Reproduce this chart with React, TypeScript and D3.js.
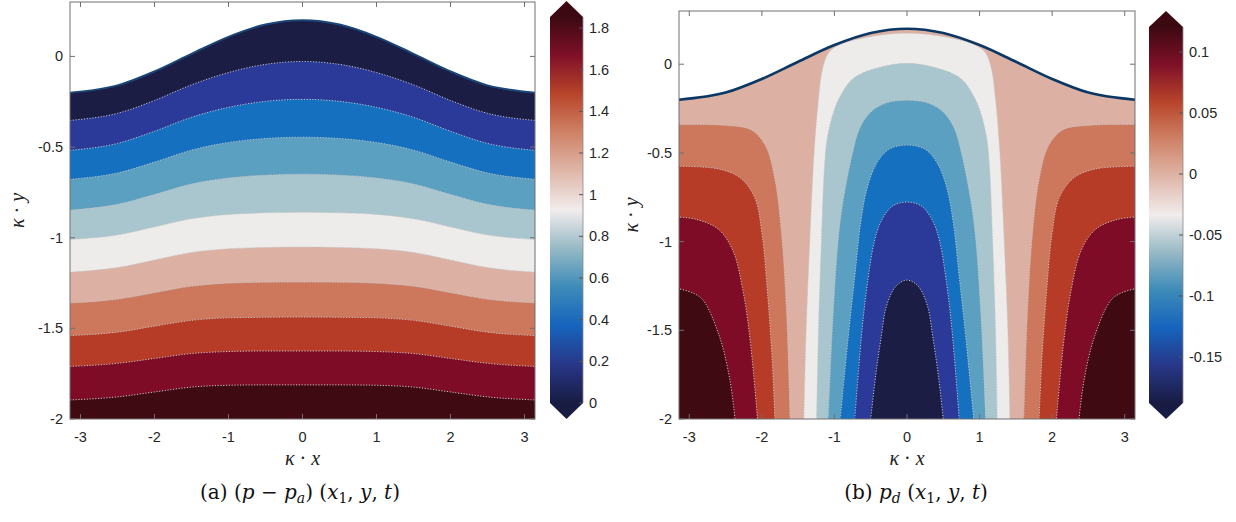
import React from "react";
import * as d3 from "d3";

// ---------- data ----------
const X_TICKS = [-3, -2, -1, 0, 1, 2, 3];
const Y_TICKS = [0, -0.5, -1, -1.5, -2];
const PA_CBAR_TICKS = [0, 0.2, 0.4, 0.6, 0.8, 1, 1.2, 1.4, 1.6, 1.8];
const PD_CBAR_TICKS = [-0.15, -0.1, -0.05, 0, 0.05, 0.1];
const PA_CMAP_RANGE = [0, 1.853];
const PD_CMAP_RANGE = [-0.1877, 0.1205];

// |x| sample positions (fields are symmetric about x = 0)
const HALF_XS = [0, 0.5, 1, 1.5, 2, 2.5, Math.PI];
// free surface eta(x) at HALF_XS
const SURFACE_Y = [0.2, 0.176, 0.108, 0.014, -0.083, -0.16, -0.2];

// (p - p_a): contour lines (low -> high level), y at HALF_XS
const PA_LINES = [
  [-0.028, -0.044, -0.089, -0.157, -0.243, -0.314, -0.353],
  [-0.237, -0.248, -0.281, -0.336, -0.413, -0.48, -0.518],
  [-0.446, -0.453, -0.475, -0.517, -0.583, -0.643, -0.678],
  [-0.65, -0.655, -0.671, -0.704, -0.762, -0.816, -0.848],
  [-0.86, -0.863, -0.872, -0.896, -0.941, -0.985, -1.01],
  [-1.052, -1.054, -1.061, -1.081, -1.123, -1.165, -1.19],
  [-1.245, -1.246, -1.251, -1.268, -1.303, -1.339, -1.36],
  [-1.438, -1.439, -1.442, -1.456, -1.488, -1.521, -1.54],
  [-1.625, -1.625, -1.628, -1.639, -1.666, -1.693, -1.71],
  [-1.812, -1.812, -1.814, -1.824, -1.851, -1.878, -1.895],
];

// p_d: arches centred on x = 0 (left half, bottom -> apex), outer to inner
const PD_ARCH_F = [[-1.42, -2], [-1.39, -1.5], [-1.34, -1.0], [-1.28, -0.5], [-1.22, -0.2], [-1.16, -0.02], [-1.07, 0.07], [-0.9, 0.115], [-0.6, 0.148], [-0.3, 0.168], [0, 0.175]];
const PD_ARCH_E = [[-1.245, -2], [-1.22, -1.5], [-1.18, -1.0], [-1.14, -0.6], [-1.1, -0.42], [-1.02, -0.28], [-0.92, -0.18], [-0.74, -0.08], [-0.4, -0.02], [0, 0.005]];
const PD_ARCH_D = [[-1.085, -2], [-1.03, -1.5], [-0.95, -1.0], [-0.88, -0.77], [-0.75, -0.5], [-0.65, -0.36], [-0.5, -0.27], [-0.3, -0.22], [0, -0.203]];
const PD_ARCH_C = [[-0.92, -2], [-0.8, -1.5], [-0.72, -1.2], [-0.64, -0.9], [-0.55, -0.7], [-0.42, -0.56], [-0.25, -0.48], [0, -0.456]];
const PD_ARCH_B = [[-0.72, -2], [-0.62, -1.5], [-0.55, -1.25], [-0.45, -1.0], [-0.35, -0.88], [-0.2, -0.8], [0, -0.777]];
const PD_ARCH_A = [[-0.5, -2], [-0.43, -1.75], [-0.36, -1.55], [-0.28, -1.36], [-0.15, -1.25], [0, -1.217]];
// p_d: side lobes at x = -pi (edge -> bottom), mirrored at x = +pi
const PD_SIDE_G = [[-3.2, -0.34], [-2.5, -0.345], [-2.15, -0.37], [-1.95, -0.46], [-1.82, -0.65], [-1.73, -0.95], [-1.66, -1.4], [-1.61, -2]];
const PD_SIDE_H = [[-3.2, -0.575], [-2.6, -0.59], [-2.3, -0.64], [-2.1, -0.75], [-2.0, -0.95], [-1.92, -1.3], [-1.86, -1.65], [-1.82, -2]];
const PD_SIDE_I = [[-3.2, -0.86], [-2.9, -0.875], [-2.6, -0.93], [-2.4, -1.05], [-2.25, -1.3], [-2.15, -1.6], [-2.06, -2]];
const PD_SIDE_J = [[-3.2, -1.26], [-2.95, -1.29], [-2.81, -1.33], [-2.58, -1.54], [-2.44, -1.78], [-2.37, -2]];

// band colours, low -> high level
const BAND_COLORS = ["#1b1d45", "#2b3a99", "#1670c0", "#5b9fc1", "#a9c6ce", "#eeeceb", "#dcb1a4", "#cd775c", "#b63c27", "#7f0c27", "#3f0a12"];
// continuous colormap stops (fraction, colour)
const CMAP_T = [0, 0.1, 0.2, 0.3, 0.4, 0.5, 0.6, 0.7, 0.8, 0.9, 1];
const CMAP_C = ["#181c43", "#283788", "#1664bd", "#3d8bb8", "#96b9c5", "#f1ecec", "#dfb7a9", "#cf8266", "#b8452a", "#7f1028", "#3c0912"];

// ---------- drawing ----------
const AXIS_FONT = "'Liberation Sans', Arial, sans-serif";
const SERIF = "'Liberation Serif', 'DejaVu Serif', serif";
const CAP_SERIF = "'DejaVu Serif', 'Liberation Serif', serif";
const LINE_STROKE = "#c4c4c4";
const TICK_FS = 14.5;

type Pt = [number, number];

function fullProfile(ys: number[]): Pt[] {
  const pts: Pt[] = [];
  for (let i = HALF_XS.length - 1; i >= 1; i--) pts.push([-HALF_XS[i], ys[i]]);
  for (let i = 0; i < HALF_XS.length; i++) pts.push([HALF_XS[i], ys[i]]);
  return pts;
}
function mirrorArch(half: number[][]): Pt[] {
  const pts: Pt[] = half.map((p) => [p[0], p[1]] as Pt);
  for (let i = half.length - 2; i >= 0; i--) pts.push([-half[i][0], half[i][1]]);
  return pts;
}

interface PanelProps {
  id: string;
  x0: number; x1: number; y0: number; y1: number;
  children: (x: d3.ScaleLinear<number, number>, y: d3.ScaleLinear<number, number>) => React.ReactNode;
  surfaceWidth: number;
  surfaceColor: string;
  ylabelX: number;
}

function Panel({ id, x0, x1, y0, y1, children, surfaceWidth, surfaceColor, ylabelX }: PanelProps) {
  const x = d3.scaleLinear().domain([-Math.PI, Math.PI]).range([x0, x1]);
  const y = d3.scaleLinear().domain([-2, 0.3]).range([y1, y0]);
  const surf = fullProfile(SURFACE_Y);
  const lineM = d3.line<Pt>().x((d) => x(d[0])).y((d) => y(d[1])).curve(d3.curveMonotoneX);
  const surfPath = lineM(surf)!;
  const clipD = surfPath + `L${x1},${y1}L${x0},${y1}Z`;
  const tl = 5;
  return (
    <g>
      <defs>
        <clipPath id={id + "-clip"}>
          <path d={clipD} />
        </clipPath>
      </defs>
      <g clipPath={`url(#${id}-clip)`}>{children(x, y)}</g>
      <path d={surfPath} fill="none" stroke={surfaceColor} strokeWidth={surfaceWidth} />
      <rect x={x0} y={y0} width={x1 - x0} height={y1 - y0} fill="none" stroke="#707070" strokeWidth={1} />
      {X_TICKS.map((t) => (
        <g key={"xt" + t}>
          <line x1={x(t)} x2={x(t)} y1={y1} y2={y1 - tl} stroke="#707070" />
          <line x1={x(t)} x2={x(t)} y1={y0} y2={y0 + tl} stroke="#707070" />
          <text x={x(t)} y={y1 + 23} textAnchor="middle" fontFamily={AXIS_FONT} fontSize={TICK_FS} fill="#262626">{String(t)}</text>
        </g>
      ))}
      {Y_TICKS.map((t) => (
        <g key={"yt" + t}>
          <line x1={x0} x2={x0 + tl} y1={y(t)} y2={y(t)} stroke="#707070" />
          <line x1={x1} x2={x1 - tl} y1={y(t)} y2={y(t)} stroke="#707070" />
          <text x={x0 - 7} y={y(t) + 5} textAnchor="end" fontFamily={AXIS_FONT} fontSize={TICK_FS} fill="#262626">{String(t)}</text>
        </g>
      ))}
      <text x={(x0 + x1) / 2} y={y1 + 46} textAnchor="middle" fontFamily={SERIF} fontSize={20} fill="#222">
        <tspan fontStyle="italic">κ</tspan> · <tspan fontStyle="italic">x</tspan>
      </text>
      <text transform={`translate(${ylabelX},${(y0 + y1) / 2}) rotate(-90)`} textAnchor="middle" fontFamily={SERIF} fontSize={20} fill="#222">
        <tspan fontStyle="italic">κ</tspan> · <tspan fontStyle="italic">y</tspan>
      </text>
    </g>
  );
}

interface CbarProps {
  id: string; xl: number; xr: number; domain: number[]; ticks: number[]; tickScale: [number, number, number, number];
}
function Colorbar({ id, xl, xr, domain, ticks, tickScale }: CbarProps) {
  const s = d3.scaleLinear().domain([tickScale[0], tickScale[1]]).range([tickScale[2], tickScale[3]]);
  const yTop = s(domain[1]);
  const yBot = s(domain[0]);
  const tip = 16;
  const xc = (xl + xr) / 2;
  const pts = [[xc, yTop - tip], [xr, yTop], [xr, yBot], [xc, yBot + tip], [xl, yBot], [xl, yTop]];
  return (
    <g>
      <defs>
        <linearGradient id={id} gradientUnits="userSpaceOnUse" x1={0} x2={0} y1={yBot} y2={yTop}>
          {CMAP_T.map((t, i) => (
            <stop key={i} offset={t} stopColor={CMAP_C[i]} />
          ))}
        </linearGradient>
      </defs>
      <polygon points={pts.map((p) => p.join(",")).join(" ")} fill={`url(#${id})`} />
      <line x1={xr} x2={xr} y1={yTop} y2={yBot} stroke="#8a8a8a" strokeWidth={0.8} />
      {ticks.map((t) => (
        <g key={t}>
          <line x1={xr - 4} x2={xr} y1={s(t)} y2={s(t)} stroke="#555" />
          <text x={xr + 6} y={s(t) + 5} fontFamily={AXIS_FONT} fontSize={TICK_FS} fill="#262626">{String(t)}</text>
        </g>
      ))}
    </g>
  );
}

export default function App() {
  const W = 1236, H = 522;
  return (
    <svg width={W} height={H} viewBox={`0 0 ${W} ${H}`} style={{ position: "absolute", left: 0, top: 0, background: "#fff" }}>
      <rect width={W} height={H} fill="#fff" />
      {/* (a) p - p_a */}
      <Panel id="pa" x0={70} x1={535} y0={2} y1={419} surfaceWidth={2} surfaceColor="#1a4677" ylabelX={24}>
        {(x, y) => {
          const lineM = d3.line<Pt>().x((d) => x(d[0])).y((d) => y(d[1])).curve(d3.curveMonotoneX);
          return (
            <g>
              <rect x={x(-Math.PI)} y={y(0.3)} width={x(Math.PI) - x(-Math.PI)} height={y(-2) - y(0.3)} fill={BAND_COLORS[0]} />
              {PA_LINES.map((ys, i) => (
                <path key={"f" + i} d={lineM(fullProfile(ys))! + `L${x(Math.PI)},${y(-2) + 2}L${x(-Math.PI)},${y(-2) + 2}Z`} fill={BAND_COLORS[i + 1]} />
              ))}
              {PA_LINES.map((ys, i) => (
                <path key={"l" + i} d={lineM(fullProfile(ys))!} fill="none" stroke={LINE_STROKE} strokeWidth={1} strokeDasharray="1.2 1.6" />
              ))}
            </g>
          );
        }}
      </Panel>
      <Colorbar id="cb-a" xl={550} xr={583} domain={PA_CMAP_RANGE} ticks={PA_CBAR_TICKS} tickScale={[0, 1.8, 403, 28]} />

      {/* (b) p_d */}
      <Panel id="pd" x0={679} x1={1135} y0={11} y1={419} surfaceWidth={2.6} surfaceColor="#0b3765" ylabelX={638}>
        {(x, y) => {
          const lineC = d3.line<Pt>().x((d) => x(d[0])).y((d) => y(d[1])).curve(d3.curveCatmullRom.alpha(0.5));
          const arches = [PD_ARCH_F, PD_ARCH_E, PD_ARCH_D, PD_ARCH_C, PD_ARCH_B, PD_ARCH_A];
          const archColors = [BAND_COLORS[5], BAND_COLORS[4], BAND_COLORS[3], BAND_COLORS[2], BAND_COLORS[1], BAND_COLORS[0]];
          const sides = [PD_SIDE_G, PD_SIDE_H, PD_SIDE_I, PD_SIDE_J];
          const sideColors = [BAND_COLORS[7], BAND_COLORS[8], BAND_COLORS[9], BAND_COLORS[10]];
          const yb = y(-2) + 2;
          const sidePath = (pts: number[][], sign: number) => {
            const p: Pt[] = pts.map((q) => [sign * q[0], q[1]] as Pt);
            return lineC(p)!;
          };
          return (
            <g>
              <rect x={x(-Math.PI)} y={y(0.3)} width={x(Math.PI) - x(-Math.PI)} height={y(-2) - y(0.3)} fill={BAND_COLORS[6]} />
              {sides.map((pts, i) => (
                <g key={"s" + i}>
                  <path d={sidePath(pts, 1) + `L${x(pts[pts.length - 1][0])},${yb}L${x(-3.2)},${yb}Z`} fill={sideColors[i]} />
                  <path d={sidePath(pts, -1) + `L${x(-pts[pts.length - 1][0])},${yb}L${x(3.2)},${yb}Z`} fill={sideColors[i]} />
                </g>
              ))}
              {arches.map((half, i) => (
                <path key={"a" + i} d={lineC(mirrorArch(half))! + `L${x(-half[0][0])},${yb}L${x(half[0][0])},${yb}Z`} fill={archColors[i]} />
              ))}
              {sides.map((pts, i) => (
                <g key={"sl" + i}>
                  <path d={sidePath(pts, 1)} fill="none" stroke={LINE_STROKE} strokeWidth={1} strokeDasharray="1.2 1.6" />
                  <path d={sidePath(pts, -1)} fill="none" stroke={LINE_STROKE} strokeWidth={1} strokeDasharray="1.2 1.6" />
                </g>
              ))}
              {arches.map((half, i) => (
                <path key={"al" + i} d={lineC(mirrorArch(half))!} fill="none" stroke={LINE_STROKE} strokeWidth={1} strokeDasharray="1.2 1.6" />
              ))}
            </g>
          );
        }}
      </Panel>
      <Colorbar id="cb-b" xl={1149} xr={1183} domain={PD_CMAP_RANGE} ticks={PD_CBAR_TICKS} tickScale={[-0.15, 0.1, 357, 52]} />

      {/* captions */}
      <text x={300} y={499} textAnchor="middle" fontFamily={CAP_SERIF} fontSize={20} fill="#111">
        (a) (<tspan fontStyle="italic">p</tspan> − <tspan fontStyle="italic">p</tspan><tspan fontStyle="italic" fontSize={14} dy={4}>a</tspan><tspan dy={-4}>) (</tspan><tspan fontStyle="italic">x</tspan><tspan fontSize={14} dy={4}>1</tspan><tspan dy={-4}>, </tspan><tspan fontStyle="italic">y</tspan>, <tspan fontStyle="italic">t</tspan>)
      </text>
      <text x={916} y={499} textAnchor="middle" fontFamily={CAP_SERIF} fontSize={20} fill="#111">
        (b) <tspan fontStyle="italic">p</tspan><tspan fontStyle="italic" fontSize={14} dy={4}>d</tspan><tspan dy={-4}> (</tspan><tspan fontStyle="italic">x</tspan><tspan fontSize={14} dy={4}>1</tspan><tspan dy={-4}>, </tspan><tspan fontStyle="italic">y</tspan>, <tspan fontStyle="italic">t</tspan>)
      </text>
    </svg>
  );
}
